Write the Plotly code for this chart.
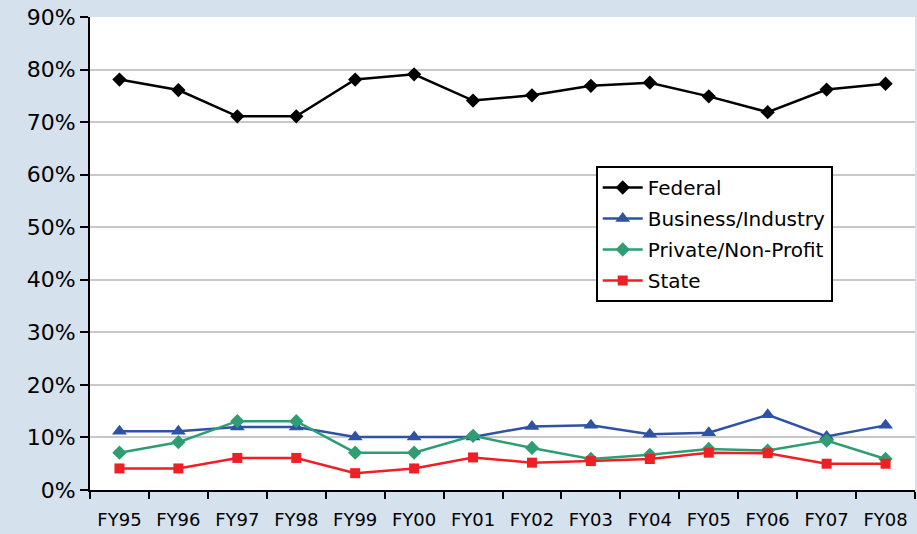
import plotly.graph_objects as go

years = ["FY95", "FY96", "FY97", "FY98", "FY99", "FY00", "FY01",
         "FY02", "FY03", "FY04", "FY05", "FY06", "FY07", "FY08"]

federal = [78.1, 76.1, 71.1, 71.1, 78.1, 79.1, 74.1, 75.1, 76.9, 77.5, 74.9, 71.9, 76.2, 77.3]
business = [11.2, 11.2, 12.0, 12.0, 10.1, 10.1, 10.1, 12.1, 12.3, 10.6, 10.9, 14.3, 10.2, 12.3]
private = [7.1, 9.1, 13.1, 13.1, 7.1, 7.1, 10.3, 8.0, 5.9, 6.7, 7.8, 7.5, 9.4, 5.9]
state = [4.1, 4.1, 6.1, 6.1, 3.2, 4.1, 6.2, 5.2, 5.5, 5.9, 7.1, 7.0, 5.0, 5.0]

series = [
    ("Federal", federal, "#000000", "diamond", 11),
    ("Business/Industry", business, "#2F52A4", "triangle-up", 13),
    ("Private/Non-Profit", private, "#2E9E72", "diamond", 11),
    ("State", state, "#EE1F25", "square", 10),
]

fig = go.Figure()
for name, vals, color, sym, size in series:
    fig.add_trace(go.Scatter(
        x=years, y=vals, name=name, mode="lines+markers", legendgroup=name,
        line=dict(color=color, width=2.5),
        marker=dict(symbol=sym, size=size, color=color),
    ))

fig.update_layout(
    width=917, height=534,
    margin=dict(l=90, r=2, t=17, b=44),
    paper_bgcolor="#D5E1ED",
    plot_bgcolor="#FFFFFF",
    font=dict(family="DejaVu Sans", color="#000000"),
    showlegend=True,
    legend=dict(
        x=0.613, y=0.685, xanchor="left", yanchor="top",
        bgcolor="#FFFFFF", bordercolor="#000000", borderwidth=2,
        font=dict(size=20), itemwidth=40, tracegroupgap=2,
    ),
)
fig.update_xaxes(
    type="category", range=[-0.5, len(years) - 0.5],
    tickson="boundaries", tickangle=0, automargin=False,
    ticks="outside", ticklen=7, tickwidth=2, tickcolor="#000000",
    ticklabelstandoff=12,
    showline=True, linecolor="#000000", linewidth=2,
    showgrid=False, tickfont=dict(size=18),
)
fig.update_yaxes(
    range=[0, 90], dtick=10, ticksuffix="%", automargin=False,
    ticks="outside", ticklen=8, tickwidth=2, tickcolor="#000000",
    showline=True, linecolor="#000000", linewidth=2,
    showgrid=True, gridcolor="#C8C8C8", gridwidth=2,
    zeroline=False, tickfont=dict(size=22),
)

fig.write_html("out.html", config={"displayModeBar": False},
               post_script="document.body.style.margin='0';")
